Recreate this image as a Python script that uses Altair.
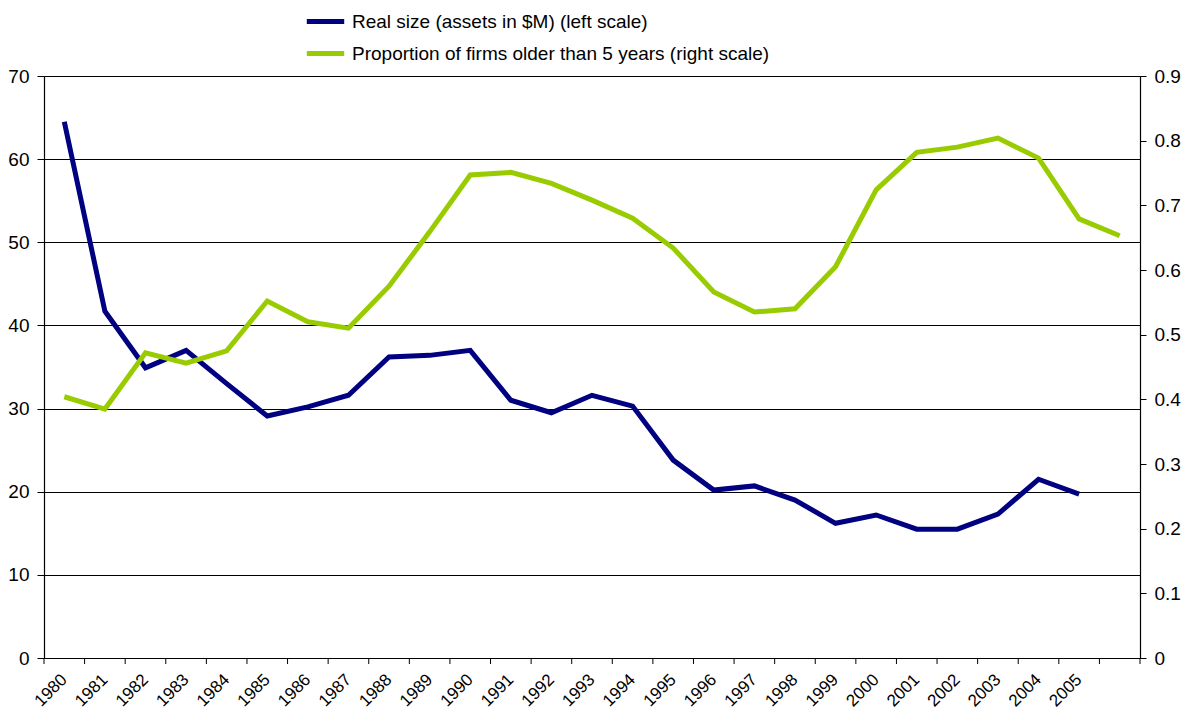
import altair as alt
import pandas as pd

years = list(range(1980, 2007))
real_size = [64.5, 41.7, 34.9, 37.0, 33.0, 29.1, 30.2, 31.6, 36.2, 36.4, 37.0,
             31.0, 29.5, 31.6, 30.3, 23.8, 20.2, 20.7, 19.0, 16.2, 17.2, 15.5,
             15.5, 17.3, 21.5, 19.7]
prop_old = [0.404, 0.385, 0.472, 0.456, 0.475, 0.552, 0.520, 0.510, 0.575, 0.659,
            0.747, 0.751, 0.734, 0.708, 0.680, 0.634, 0.566, 0.535, 0.540, 0.605,
            0.724, 0.782, 0.790, 0.804, 0.773, 0.679, 0.653]
label_years = list(range(1980, 2006))
tick_bounds = [y - 0.5 for y in range(1980, 2008)]
left_ticks = [0, 10, 20, 30, 40, 50, 60, 70]
right_ticks = [0, 0.1, 0.2, 0.3, 0.4, 0.5, 0.6, 0.7, 0.8, 0.9]

s1 = "Real size (assets in $M) (left scale)"
s2 = "Proportion of firms older than 5 years (right scale)"

df1 = pd.DataFrame({"year": years[:len(real_size)], "v": real_size, "series": s1})
df2 = pd.DataFrame({"year": years, "v": prop_old, "series": s2})
dft = pd.DataFrame({"year": tick_bounds})

FONT = "Liberation Sans"
FS = 19
W, H = 1096, 582

xscale = alt.Scale(domain=[1979.5, 2006.5], nice=False, zero=False)
xaxis = alt.Axis(values=label_years, format="d", labelAngle=-45, tickSize=0,
                 labelPadding=13, labelOffset=-6, labelFontSize=17, labelFont=FONT,
                 labelColor="black", domainColor="black", domainWidth=1.2, grid=False,
                 title=None, labelOverlap=False, labelFlush=False, labelBound=False)
color = alt.Color("series:N",
                  scale=alt.Scale(domain=[s1, s2], range=["#000080", "#99CC00"]),
                  legend=alt.Legend(orient="none", legendX=260, legendY=-76, title=None,
                                    symbolType="stroke", symbolStrokeWidth=5,
                                    symbolSize=1400, labelFontSize=FS, labelFont=FONT,
                                    labelColor="black", rowPadding=-2, labelOffset=5,
                                    labelLimit=0, padding=0))

left = alt.Chart(df1).mark_line(strokeWidth=5).encode(
    x=alt.X("year:Q", scale=xscale, axis=xaxis),
    y=alt.Y("v:Q", scale=alt.Scale(domain=[0, 70], nice=False),
            axis=alt.Axis(values=left_ticks, title=None, grid=True, gridColor="black",
                          gridWidth=1, gridOpacity=1, tickColor="black", tickSize=7,
                          labelPadding=8, labelFontSize=FS, labelFont=FONT,
                          labelColor="black", domainColor="black", domainWidth=1.2)),
    color=color,
)

right = alt.Chart(df2).mark_line(strokeWidth=5).encode(
    x=alt.X("year:Q", scale=xscale, axis=xaxis),
    y=alt.Y("v:Q", scale=alt.Scale(domain=[0, 0.9], nice=False),
            axis=alt.Axis(values=right_ticks, orient="right", title=None, grid=False,
                          format="~g", tickColor="black", tickSize=6, labelPadding=8,
                          labelFontSize=FS, labelFont=FONT, labelColor="black",
                          domainColor="black", domainWidth=1.2)),
    color=color,
)

ticks = alt.Chart(dft).mark_rule(color="black", strokeWidth=1).encode(
    x=alt.X("year:Q", scale=xscale, axis=xaxis),
    y=alt.value(H),
    y2=alt.value(H + 6),
)

chart = alt.layer(left, ticks, right).resolve_scale(y="independent").properties(
    width=W, height=H,
    autosize=alt.AutoSizeParams(type="none"),
    padding={"left": 36, "top": 68, "right": 44, "bottom": 60},
).configure_view(stroke=None).configure(background="white")

chart.save("out.html", embed_options={"renderer": "svg", "actions": False})
